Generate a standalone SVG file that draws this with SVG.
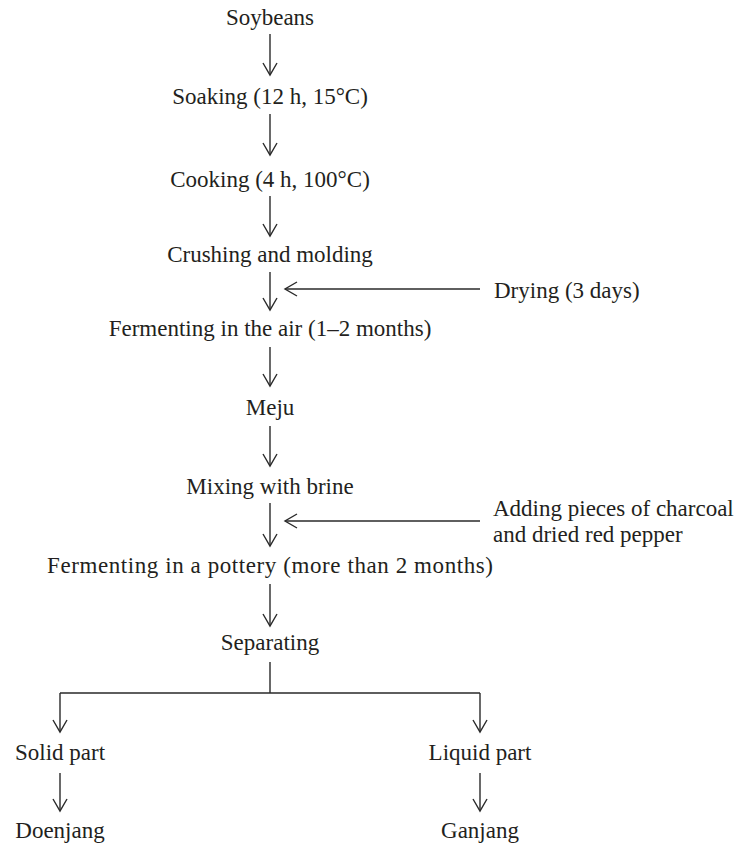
<svg xmlns="http://www.w3.org/2000/svg" width="743" height="844" viewBox="0 0 743 844">
<style>
text{font-family:"Liberation Serif","Times New Roman",serif;font-size:23px;fill:#231f20}
.c{text-anchor:middle}
.l{stroke:#2a2a2a;stroke-width:1.4;fill:none}
</style>
<defs>
<marker id="ah" markerUnits="userSpaceOnUse" markerWidth="20" markerHeight="20" viewBox="-14 -10 16 20" refX="0" refY="0" orient="auto">
<path d="M-12,-7 L0,0 L-12,7" fill="none" stroke="#2a2a2a" stroke-width="1.4"/>
</marker>
</defs>
<rect width="743" height="844" fill="#fff"/>
<g id="connectors">
<line class="l" x1="270" y1="34" x2="270" y2="75" marker-end="url(#ah)"/>
<line class="l" x1="270" y1="114" x2="270" y2="155" marker-end="url(#ah)"/>
<line class="l" x1="270" y1="196" x2="270" y2="236" marker-end="url(#ah)"/>
<line class="l" x1="270" y1="272" x2="270" y2="310" marker-end="url(#ah)"/>
<line class="l" x1="480" y1="289" x2="285" y2="289" marker-end="url(#ah)"/>
<line class="l" x1="270" y1="347" x2="270" y2="386" marker-end="url(#ah)"/>
<line class="l" x1="270" y1="426" x2="270" y2="466" marker-end="url(#ah)"/>
<line class="l" x1="270" y1="503" x2="270" y2="546" marker-end="url(#ah)"/>
<line class="l" x1="480" y1="521" x2="285" y2="521" marker-end="url(#ah)"/>
<line class="l" x1="270" y1="584" x2="270" y2="626" marker-end="url(#ah)"/>
<path class="l" d="M270,662 V693 M60,693 H480"/>
<line class="l" x1="60" y1="693" x2="60" y2="732" marker-end="url(#ah)"/>
<line class="l" x1="480" y1="693" x2="480" y2="732" marker-end="url(#ah)"/>
<line class="l" x1="60" y1="773" x2="60" y2="811" marker-end="url(#ah)"/>
<line class="l" x1="480" y1="773" x2="480" y2="811" marker-end="url(#ah)"/>
</g>
<g id="soybeans"><text class="c" x="270" y="25">Soybeans</text></g>
<g id="soaking"><text class="c" x="270" y="104">Soaking (12 h, 15°C)</text></g>
<g id="cooking"><text class="c" x="270" y="187">Cooking (4 h, 100°C)</text></g>
<g id="crushing"><text class="c" x="270" y="262">Crushing and molding</text></g>
<g id="drying"><text x="494" y="298">Drying (3 days)</text></g>
<g id="fermenting-air"><text class="c" x="270" y="336">Fermenting in the air (1–2 months)</text></g>
<g id="meju"><text class="c" x="270" y="415">Meju</text></g>
<g id="mixing"><text class="c" x="270" y="494">Mixing with brine</text></g>
<g id="adding"><text x="493" y="516">Adding pieces of charcoal</text><text x="493" y="542">and dried red pepper</text></g>
<g id="fermenting-pottery"><text class="c" x="270" y="573" textLength="446" lengthAdjust="spacing">Fermenting in a pottery (more than 2 months)</text></g>
<g id="separating"><text class="c" x="270" y="650">Separating</text></g>
<g id="solid"><text class="c" x="60" y="760">Solid part</text></g>
<g id="liquid"><text class="c" x="480" y="760">Liquid part</text></g>
<g id="doenjang"><text class="c" x="60" y="838">Doenjang</text></g>
<g id="ganjang"><text class="c" x="480" y="838">Ganjang</text></g>
</svg>
